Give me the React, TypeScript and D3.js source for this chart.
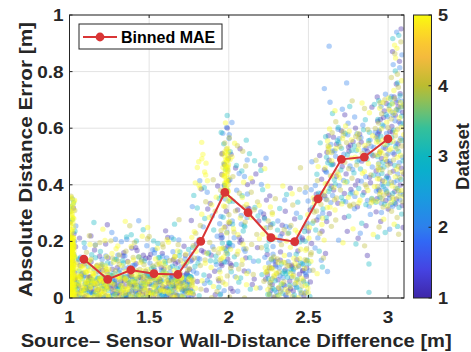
import React from "react";
import * as d3 from "d3";

// Binned MAE (red line)
const binCenters = [1.09, 1.24, 1.385, 1.53, 1.68, 1.824, 1.975, 2.121, 2.265, 2.414, 2.56, 2.707, 2.851, 2.999];
const binMae = [0.137, 0.066, 0.099, 0.086, 0.083, 0.2, 0.373, 0.302, 0.213, 0.199, 0.35, 0.49, 0.498, 0.562];

// scatter cloud, described as density patches
// [xMin, xMax, yMin, yMax, count, dataset (0 = mixed)]
const patches: number[][] = [
  [1.0, 1.03, 0.0, 0.22, 110, 5],
  [1.0, 1.03, 0.15, 0.36, 30, 5],
  [1.0, 1.04, 0.0, 0.37, 40, 0],
  [1.03, 1.78, 0.0, 0.08, 260, 0],
  [1.03, 1.78, 0.0, 0.15, 200, 0],
  [1.05, 1.75, 0.05, 0.22, 110, 0],
  [1.1, 1.7, 0.12, 0.28, 35, 0],
  [1.03, 1.25, 0.0, 0.12, 60, 5],
  [1.3, 1.7, 0.0, 0.1, 35, 5],
  [1.72, 1.96, 0.0, 0.18, 50, 0],
  [1.76, 1.96, 0.12, 0.42, 45, 0],
  [1.8, 1.87, 0.38, 0.52, 10, 5],
  [1.95, 2.01, 0.12, 0.62, 60, 0],
  [1.97, 2.0, 0.36, 0.52, 35, 5],
  [1.93, 2.02, 0.0, 0.2, 20, 0],
  [2.0, 2.12, 0.05, 0.58, 45, 0],
  [2.02, 2.28, 0.0, 0.32, 60, 0],
  [2.08, 2.25, 0.25, 0.5, 25, 0],
  [2.24, 2.5, 0.0, 0.14, 90, 0],
  [2.22, 2.52, 0.0, 0.26, 80, 0],
  [2.25, 2.5, 0.2, 0.4, 30, 0],
  [2.48, 2.62, 0.08, 0.4, 40, 0],
  [2.52, 2.66, 0.25, 0.55, 35, 0],
  [2.6, 2.95, 0.32, 0.6, 150, 0],
  [2.62, 2.95, 0.5, 0.7, 40, 0],
  [2.66, 2.95, 0.18, 0.36, 25, 0],
  [2.93, 3.1, 0.32, 0.72, 170, 0],
  [3.02, 3.09, 0.65, 0.96, 30, 0],
  [2.95, 3.1, 0.22, 0.38, 20, 0],
];

// single outlying points
const outX = [2.63, 2.6, 2.74, 2.88, 2.88, 2.87, 2.13, 1.99, 2.02, 1.83, 2.2, 2.45];
const outY = [0.89, 0.74, 0.76, 0.02, 0.12, 0.15, 0.51, 0.645, 0.62, 0.55, 0.47, 0.46];
const outSet = [2, 2, 2, 3, 3, 1, 3, 3, 2, 5, 1, 4];

const xTicks = [1, 1.5, 2, 2.5, 3];
const yTicks = [0, 0.2, 0.4, 0.6, 0.8, 1];
const cbTicks = [1, 2, 3, 4, 5];

// parula-like colormap stops
const parulaStops = [0, 0.1, 0.2, 0.25, 0.35, 0.45, 0.5, 0.6, 0.68, 0.75, 0.85, 0.92, 1];
const parulaColors = ["#3e26a8", "#4543e2", "#3168f5", "#2d80ec", "#1a9adf", "#0aafcc", "#0db5c0", "#35c09a", "#82c063", "#bbbc30", "#f4ba3d", "#fdce2c", "#f9fb0e"];

function halton(i: number, b: number) {
  let f = 1, r = 0;
  while (i > 0) { f /= b; r += f * (i % b); i = Math.floor(i / b); }
  return r;
}

const W = 471, H = 352;
const plot = {left: 69.5, right: 404, top: 15, bottom: 298};
const cb = {left: 413.5, right: 431.5};
const ink = "#262626";
const red = "#d93535";
const font = "'Liberation Sans', Arial, sans-serif";

export default function App() {
  const x = d3.scaleLinear().domain([1, 3.1]).range([plot.left, plot.right]);
  const y = d3.scaleLinear().domain([0, 1]).range([plot.bottom, plot.top]);
  const parula = d3.scaleLinear<string>().domain(parulaStops).range(parulaColors).interpolate(d3.interpolateRgb);
  const cbY = d3.scaleLinear().domain([1, 5]).range([plot.bottom, plot.top]);

  let offset = 1;
  const pts: {x: number; y: number; s: number}[] = [];
  patches.forEach(([x0, x1, y0, y1, n, set]) => {
    for (let j = 0; j < n; j++) {
      const k = offset + j;
      pts.push({
        x: x0 + (x1 - x0) * halton(k, 2),
        y: y0 + (y1 - y0) * halton(k, 3),
        s: set || 1 + Math.floor(halton(k, 5) * 5),
      });
    }
    offset += n + 17;
  });
  outX.forEach((v, i) => pts.push({x: v, y: outY[i], s: outSet[i]}));
  pts.sort((a, b) => a.s - b.s);

  const line = d3.line<number>().x((d, i) => x(binCenters[i])).y(d => y(d));
  const gradStops = d3.range(0, 1.0001, 0.05);

  return (
    <svg width={W} height={H} style={{position: "absolute", left: 0, top: 0, background: "#fff"}} fontFamily={font}>
      <defs>
        <clipPath id="pa"><rect x={plot.left} y={plot.top} width={plot.right - plot.left} height={plot.bottom - plot.top}/></clipPath>
        <linearGradient id="cbg" x1="0" y1="1" x2="0" y2="0">
          {gradStops.map(t => <stop key={t} offset={t} stopColor={parula(t)}/>)}
        </linearGradient>
      </defs>
      {/* grid */}
      {xTicks.map(t => <line key={"gx" + t} x1={x(t)} x2={x(t)} y1={plot.top} y2={plot.bottom} stroke="#e3e3e3" strokeWidth={1}/>)}
      {yTicks.map(t => <line key={"gy" + t} x1={plot.left} x2={plot.right} y1={y(t)} y2={y(t)} stroke="#e3e3e3" strokeWidth={1}/>)}
      {/* scatter */}
      <g clipPath="url(#pa)">
        {pts.map((p, i) => <circle key={i} cx={x(p.x)} cy={y(p.y)} r={2.7} fill={parula((p.s - 1) / 4)} fillOpacity={0.37}/>)}
      </g>
      {/* binned MAE */}
      <path d={line(binMae) || ""} fill="none" stroke={red} strokeWidth={2}/>
      {binMae.map((v, i) => <circle key={"m" + i} cx={x(binCenters[i])} cy={y(v)} r={4.4} fill={red}/>)}
      {/* axes box and ticks */}
      <rect x={plot.left} y={plot.top} width={plot.right - plot.left} height={plot.bottom - plot.top} fill="none" stroke={ink} strokeWidth={1}/>
      {xTicks.map(t => <g key={"tx" + t}>
        <line x1={x(t)} x2={x(t)} y1={plot.bottom} y2={plot.bottom - 3} stroke={ink}/>
        <line x1={x(t)} x2={x(t)} y1={plot.top} y2={plot.top + 3} stroke={ink}/>
        <text transform={`translate(${x(t)},322.5) scale(1.15,1)`} textAnchor="middle" fontSize={16.5} fontWeight="bold" fill={ink}>{String(t)}</text>
      </g>)}
      {yTicks.map(t => <g key={"ty" + t}>
        <line x1={plot.left} x2={plot.left + 3} y1={y(t)} y2={y(t)} stroke={ink}/>
        <line x1={plot.right} x2={plot.right - 3} y1={y(t)} y2={y(t)} stroke={ink}/>
        <text transform={`translate(63.5,${y(t)}) scale(1.15,1)`} dy="0.36em" textAnchor="end" fontSize={16.5} fontWeight="bold" fill={ink}>{String(t)}</text>
      </g>)}
      <text x={20.7} y={346.7} textLength={431} lengthAdjust="spacingAndGlyphs" fontSize={19} fontWeight="bold" fill={ink}>Source– Sensor Wall-Distance Difference [m]</text>
      <text transform={`translate(32,297) rotate(-90)`} textLength={275} lengthAdjust="spacingAndGlyphs" fontSize={19} fontWeight="bold" fill={ink}>Absolute Distance Error [m]</text>
      {/* legend */}
      <rect x={79} y={24} width={143} height={25} fill="#fff" stroke={ink} strokeWidth={1}/>
      <line x1={83} x2={117} y1={37} y2={37} stroke={red} strokeWidth={2}/>
      <circle cx={100} cy={37} r={4.4} fill={red}/>
      <text x={121} y={37} dy="0.36em" fontSize={16} fontWeight="bold" fill="#000">Binned MAE</text>
      {/* colorbar */}
      <rect x={cb.left} y={plot.top} width={cb.right - cb.left} height={plot.bottom - plot.top} fill="url(#cbg)" stroke={ink} strokeWidth={1}/>
      {cbTicks.map(t => <g key={"c" + t}>
        <line x1={cb.right} x2={cb.right - 3} y1={cbY(t)} y2={cbY(t)} stroke={ink}/>
        <text transform={`translate(438,${cbY(t)}) scale(1.1,1)`} dy="0.36em" fontSize={16.5} fontWeight="bold" fill={ink}>{String(t)}</text>
      </g>)}
      <text transform={`translate(468.5,190) rotate(-90)`} textLength={67} lengthAdjust="spacingAndGlyphs" fontSize={17.5} fontWeight="bold" fill={ink}>Dataset</text>
    </svg>
  );
}
